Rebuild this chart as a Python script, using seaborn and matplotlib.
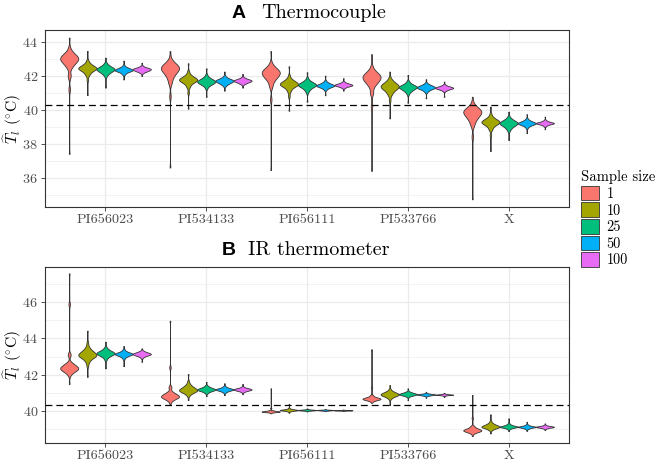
import matplotlib
matplotlib.use('Agg')

import matplotlib.pyplot as plt
import numpy as np
import pandas as pd
import seaborn as sns

genotypes = ["PI656023", "PI534133", "PI656111", "PI533766", "X"]
sample_sizes = ["1", "10", "25", "50", "100"]
palette = ["#F8766D", "#A3A500", "#00BF7D", "#00B0F6", "#E76BF3"]
threshold = 40.3

# each violin is given as 11 ordered estimates (lowest ... highest);
# point_weights says how many replicates each of them stands for
point_weights = [1, 2, 4, 6, 8, 9, 8, 6, 4, 2, 1]

# Panel A: thermocouple, one list per sample size (1, 10, 25, 50, 100)
tc_PI656023 = [
    [37.4, 41.2, 42.0, 42.55, 42.8, 42.95, 43.08, 43.2, 43.35, 43.6, 44.24],
    [40.86, 41.75, 42.05, 42.22, 42.35, 42.43, 42.5, 42.6, 42.72, 42.9, 43.45],
    [41.3, 41.95, 42.1, 42.2, 42.3, 42.37, 42.44, 42.52, 42.62, 42.75, 43.06],
    [41.78, 42.05, 42.15, 42.23, 42.29, 42.33, 42.38, 42.44, 42.5, 42.6, 42.88],
    [41.98, 42.15, 42.22, 42.27, 42.32, 42.37, 42.41, 42.45, 42.5, 42.58, 42.76],
]
tc_PI534133 = [
    [36.6, 40.8, 41.6, 41.95, 42.2, 42.38, 42.5, 42.62, 42.75, 42.95, 43.45],
    [40.06, 41.0, 41.35, 41.55, 41.67, 41.75, 41.83, 41.92, 42.05, 42.25, 42.73],
    [40.76, 41.25, 41.4, 41.5, 41.58, 41.65, 41.72, 41.8, 41.9, 42.05, 42.43],
    [41.12, 41.38, 41.48, 41.56, 41.63, 41.69, 41.74, 41.8, 41.87, 41.98, 42.24],
    [41.3, 41.48, 41.55, 41.6, 41.66, 41.7, 41.74, 41.79, 41.84, 41.92, 42.1],
]
tc_PI656111 = [
    [36.45, 40.6, 41.4, 41.75, 41.95, 42.12, 42.24, 42.36, 42.5, 42.72, 43.45],
    [39.94, 40.8, 41.1, 41.3, 41.42, 41.5, 41.58, 41.68, 41.8, 42.0, 42.55],
    [40.47, 41.0, 41.15, 41.28, 41.38, 41.45, 41.52, 41.6, 41.7, 41.85, 42.2],
    [40.85, 41.15, 41.25, 41.32, 41.38, 41.42, 41.47, 41.53, 41.6, 41.7, 42.0],
    [41.12, 41.27, 41.33, 41.38, 41.42, 41.45, 41.49, 41.53, 41.58, 41.65, 41.85],
]
tc_PI533766 = [
    [36.4, 40.2, 41.0, 41.45, 41.68, 41.85, 41.98, 42.1, 42.25, 42.5, 43.27],
    [39.49, 40.55, 40.9, 41.1, 41.25, 41.35, 41.45, 41.55, 41.68, 41.85, 42.24],
    [40.41, 40.9, 41.05, 41.15, 41.25, 41.32, 41.38, 41.45, 41.55, 41.68, 42.04],
    [40.67, 41.02, 41.12, 41.2, 41.26, 41.31, 41.36, 41.42, 41.48, 41.57, 41.79],
    [40.76, 41.08, 41.15, 41.2, 41.25, 41.28, 41.32, 41.36, 41.41, 41.48, 41.65],
]
tc_X = [
    [34.73, 38.4, 39.1, 39.4, 39.62, 39.8, 39.92, 40.02, 40.15, 40.35, 40.76],
    [37.57, 38.5, 38.85, 39.05, 39.18, 39.26, 39.34, 39.43, 39.55, 39.75, 40.18],
    [38.22, 38.75, 38.9, 39.02, 39.12, 39.2, 39.27, 39.35, 39.45, 39.58, 39.88],
    [38.62, 38.92, 39.03, 39.1, 39.16, 39.2, 39.25, 39.31, 39.38, 39.48, 39.73],
    [38.85, 39.02, 39.09, 39.14, 39.18, 39.21, 39.24, 39.28, 39.33, 39.4, 39.59],
]

# Panel B: IR thermometer
ir_PI656023 = [
    [41.48, 41.98, 42.12, 42.22, 42.3, 42.38, 42.48, 42.62, 43.1, 45.9, 47.6],
    [41.88, 42.5, 42.75, 42.92, 43.02, 43.1, 43.2, 43.32, 43.48, 43.75, 44.43],
    [42.35, 42.82, 42.95, 43.05, 43.12, 43.18, 43.24, 43.31, 43.4, 43.52, 43.82],
    [42.47, 42.85, 42.97, 43.04, 43.1, 43.14, 43.18, 43.23, 43.3, 43.4, 43.58],
    [42.71, 42.92, 43.0, 43.06, 43.1, 43.14, 43.18, 43.22, 43.27, 43.33, 43.45],
]
ir_PI534133 = [
    [40.32, 40.52, 40.62, 40.7, 40.76, 40.82, 40.9, 41.02, 41.3, 42.4, 44.98],
    [40.6, 40.85, 40.95, 41.04, 41.1, 41.16, 41.24, 41.33, 41.45, 41.62, 42.03],
    [40.81, 40.97, 41.04, 41.1, 41.14, 41.18, 41.22, 41.27, 41.33, 41.41, 41.6],
    [40.87, 41.0, 41.06, 41.11, 41.15, 41.18, 41.21, 41.25, 41.3, 41.37, 41.52],
    [40.92, 41.03, 41.08, 41.12, 41.15, 41.18, 41.21, 41.24, 41.28, 41.34, 41.48],
]
ir_PI656111 = [
    [39.86, 39.9, 39.92, 39.94, 39.95, 39.96, 39.98, 40.0, 40.03, 40.15, 41.24],
    [39.89, 39.96, 39.99, 40.01, 40.03, 40.04, 40.06, 40.08, 40.11, 40.16, 40.37],
    [39.96, 39.99, 40.01, 40.02, 40.03, 40.04, 40.05, 40.06, 40.07, 40.09, 40.13],
    [39.98, 40.0, 40.01, 40.02, 40.03, 40.04, 40.045, 40.05, 40.06, 40.07, 40.1],
    [39.99, 40.0, 40.01, 40.015, 40.02, 40.025, 40.03, 40.035, 40.04, 40.05, 40.07],
]
ir_PI533766 = [
    [40.44, 40.52, 40.57, 40.61, 40.64, 40.67, 40.71, 40.76, 40.85, 41.3, 43.4],
    [40.32, 40.65, 40.74, 40.81, 40.86, 40.91, 40.96, 41.02, 41.09, 41.2, 41.42],
    [40.59, 40.76, 40.82, 40.86, 40.89, 40.92, 40.95, 40.99, 41.03, 41.09, 41.24],
    [40.72, 40.81, 40.84, 40.86, 40.88, 40.9, 40.91, 40.93, 40.95, 40.98, 41.05],
    [40.77, 40.83, 40.85, 40.87, 40.88, 40.89, 40.9, 40.91, 40.93, 40.95, 40.99],
]
ir_X = [
    [38.6, 38.74, 38.8, 38.85, 38.89, 38.93, 38.98, 39.05, 39.15, 39.6, 40.87],
    [38.75, 38.92, 38.99, 39.05, 39.09, 39.13, 39.18, 39.24, 39.32, 39.45, 39.8],
    [38.88, 38.98, 39.03, 39.07, 39.1, 39.12, 39.15, 39.19, 39.24, 39.32, 39.58],
    [38.89, 38.98, 39.02, 39.06, 39.09, 39.11, 39.13, 39.16, 39.2, 39.26, 39.39],
    [38.93, 39.0, 39.04, 39.07, 39.09, 39.11, 39.13, 39.15, 39.18, 39.22, 39.3],
]

tc_values = [tc_PI656023, tc_PI534133, tc_PI656111, tc_PI533766, tc_X]
ir_values = [ir_PI656023, ir_PI534133, ir_PI656111, ir_PI533766, ir_X]


def to_long(values):
    rows = []
    for g, violins in zip(genotypes, values):
        for s, vals in zip(sample_sizes, violins):
            for v, w in zip(vals, point_weights):
                rows += [(g, s, v)] * w
    return pd.DataFrame(rows, columns=["genotype", "size", "Tl"])


def robust_bw(kde):
    # bandwidth tied to the interquartile range so long tails don't blur the body
    d = kde.dataset[0]
    q1, q3 = np.percentile(d, [25, 75])
    return 0.4 * (q3 - q1) / d.std(ddof=1)


plt.rcParams['font.family'] = 'cmr10'
plt.rcParams['mathtext.fontset'] = 'cm'
plt.rcParams['axes.formatter.use_mathtext'] = True

fig = plt.figure(figsize=(6.6, 4.63), dpi=100, facecolor='white')
ax_a = fig.add_axes([0.0682, 0.5523, 0.794, 0.383])
ax_b = fig.add_axes([0.0682, 0.0425, 0.794, 0.3814])

panels = [
    (ax_a, tc_values, (34.26, 44.69), [36, 38, 40, 42, 44], [35, 37, 39, 41, 43]),
    (ax_b, ir_values, (38.2, 47.97), [40, 42, 44, 46], [39, 41, 43, 45, 47]),
]

for ax, values, ylim, major, minor in panels:
    df = to_long(values)
    sns.violinplot(data=df, x="genotype", y="Tl", hue="size",
                   order=genotypes, hue_order=sample_sizes,
                   palette=palette, saturation=1, density_norm="width",
                   common_norm=False, cut=0, inner=None, width=0.9, gap=0,
                   linewidth=0.6, linecolor="#333333", bw_method=robust_bw,
                   ax=ax, zorder=2)
    ax.axhline(threshold, color='black', lw=0.9, ls=(0, (5.5, 3.2)), zorder=5)
    ax.set_xlim(-0.6, 4.6)
    ax.set_ylim(*ylim)
    ax.set_yticks(major)
    ax.set_yticks(minor, minor=True)
    ax.set_facecolor('white')
    ax.grid(True, which='major', color='#EBEBEB', lw=0.9, zorder=0)
    ax.grid(True, which='minor', axis='y', color='#EBEBEB', lw=0.45, zorder=0)
    ax.set_axisbelow(True)
    for sp in ax.spines.values():
        sp.set_color('#333333')
        sp.set_linewidth(0.8)
    ax.tick_params(which='major', length=3, width=0.6, color='#333333',
                   labelsize=10.2, labelcolor='#4D4D4D', pad=2)
    ax.tick_params(which='minor', length=0)
    ax.set_xlabel('')
    ax.set_ylabel(r'$\widehat{T}_l$ $(^{\circ}\mathrm{C})$', fontsize=11.2)
    ax.yaxis.set_label_coords(-0.041, 0.5)

handles, labels = ax_a.get_legend_handles_labels()
ax_a.get_legend().remove()
ax_b.get_legend().remove()
leg = fig.legend(handles, labels, title='Sample size', loc='upper left',
                 bbox_to_anchor=(0.881, 0.632), frameon=False, fontsize=10.3,
                 title_fontsize=10.6, handlelength=1.2, handleheight=1.2,
                 labelspacing=0.1, handletextpad=0.55, borderpad=0,
                 borderaxespad=0, alignment='left')

fig.text(0.351, 0.9605, 'A', fontsize=14, fontweight='bold',
         family='Liberation Sans', va='baseline')
fig.text(0.3965, 0.9605, 'Thermocouple', fontsize=14.5, va='baseline')
fig.text(0.336, 0.4492, 'B', fontsize=14, fontweight='bold',
         family='Liberation Sans', va='baseline')
fig.text(0.376, 0.4492, 'IR thermometer', fontsize=14.5, va='baseline')

fig.savefig('out.png', dpi=100, facecolor='white')
